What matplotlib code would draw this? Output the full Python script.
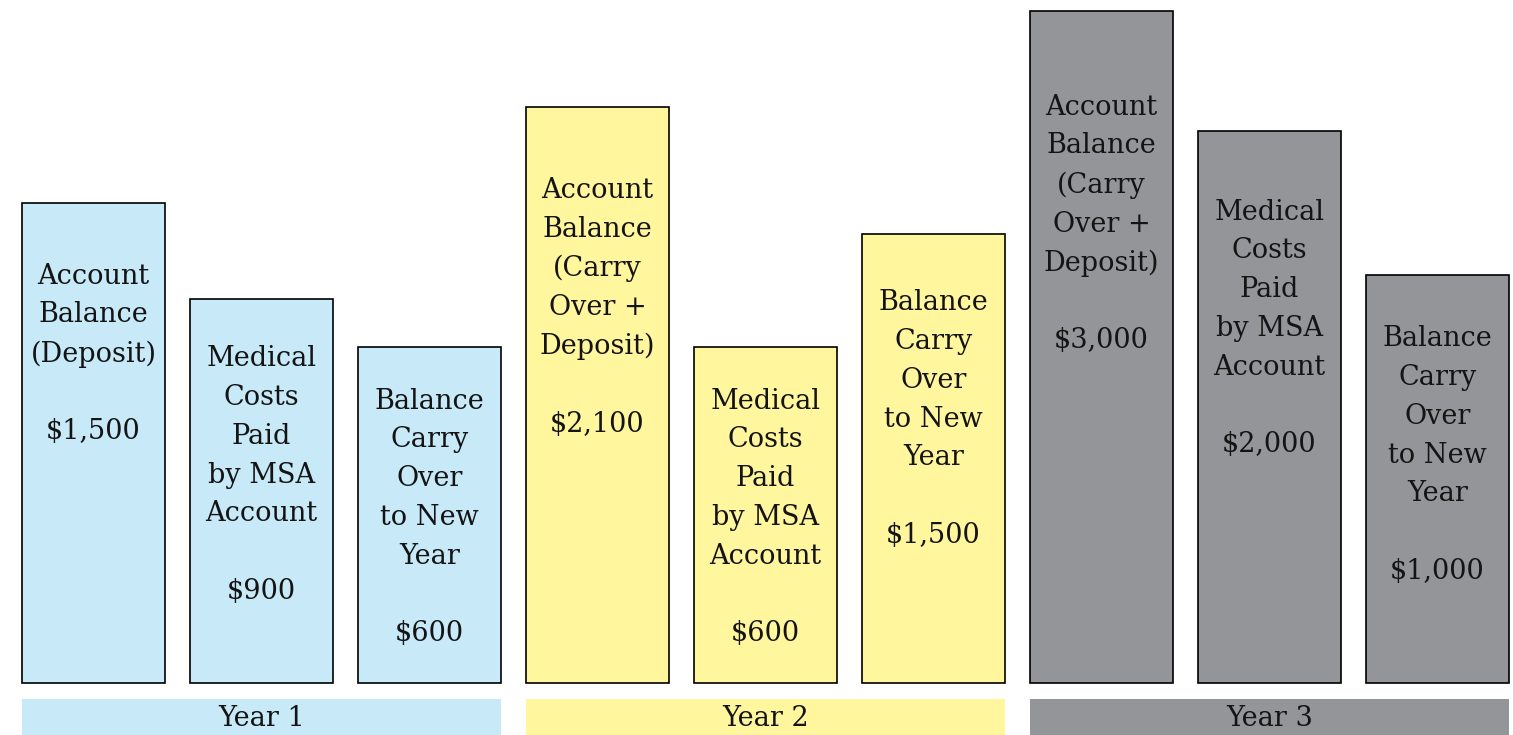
import matplotlib.pyplot as plt
from matplotlib.patches import Rectangle

# Bars (heights are the drawn heights, not to scale with $)
years = ["Year 1", "Year 2", "Year 3"]
labels = [
    "Account\nBalance\n(Deposit)",
    "Medical\nCosts\nPaid\nby MSA\nAccount",
    "Balance\nCarry\nOver\nto New\nYear",
    "Account\nBalance\n(Carry\nOver +\nDeposit)",
    "Medical\nCosts\nPaid\nby MSA\nAccount",
    "Balance\nCarry\nOver\nto New\nYear",
    "Account\nBalance\n(Carry\nOver +\nDeposit)",
    "Medical\nCosts\nPaid\nby MSA\nAccount",
    "Balance\nCarry\nOver\nto New\nYear",
]
amounts = ["$1,500", "$900", "$600", "$2,100", "$600", "$1,500", "$3,000", "$2,000", "$1,000"]
heights = [480, 384, 336, 576, 336, 449, 672, 552, 408]
year_colors = ["#c7e9f8", "#fff69e", "#939598"]

# layout: vertical centre of each text block (same units as heights)
text_y = [329, 208, 165.5, 375.5, 165.5, 264, 459, 354.5, 228]

fig = plt.figure(figsize=(15.13, 7.35), dpi=100)
ax = fig.add_axes([0, 0, 1, 1])
ax.set_xlim(-93.5 / 168, (1513 - 93.5) / 168)
ax.set_ylim(-52, 683)
ax.axis("off")

width = 143 / 168
colors = [c for c in year_colors for _ in range(3)]
x = list(range(len(heights)))
ax.bar(x, heights, width=width, color=colors, edgecolor="black", linewidth=1.2)

font = dict(family="DejaVu Serif", fontsize=19.5, color="#141414")
for i in x:
    ax.text(i, text_y[i], labels[i] + "\n\n" + amounts[i], ha="center", va="center",
            multialignment="center", linespacing=1.56, **font)

for j, yr in enumerate(years):
    left = 3 * j - width / 2
    ax.add_patch(Rectangle((left, -60), 2 + width, 44, color=year_colors[j], lw=0))
    ax.text(3 * j + 1, -35, yr, ha="center", va="center", **font)

fig.savefig("out.png", dpi=100)
